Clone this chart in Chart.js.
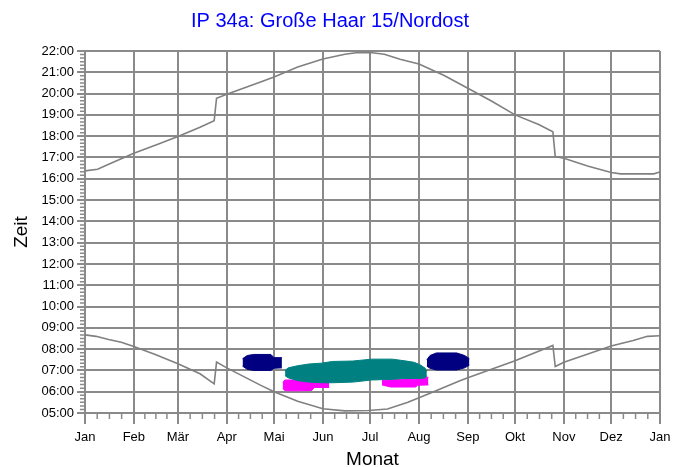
<!DOCTYPE html>
<html>
<head>
<meta charset="utf-8">
<script src="https://cdn.jsdelivr.net/npm/chart.js@4.4.0/dist/chart.umd.min.js"></script>
<style>
  html, body { margin: 0; padding: 0; background: #fff; }
</style>
</head>
<body>
<canvas id="canvas" width="688" height="467"></canvas>
<script>
// Month axis: day of year where each month starts, and its label
let monthDays = [0, 31, 59, 90, 120, 151, 181, 212, 243, 273, 304, 334, 365];
let monthNames = ['Jan', 'Feb', 'Mär', 'Apr', 'Mai', 'Jun', 'Jul', 'Aug', 'Sep', 'Okt', 'Nov', 'Dez', 'Jan'];

// Sunset (upper grey line), hours local time
let sunsetDays  = [0, 8, 15, 31, 45, 59, 73, 82, 83.5, 90, 111, 120, 135, 151, 165, 172, 181, 190, 200, 212, 228, 243, 258, 273, 288, 297, 298.5, 304, 319, 334, 340, 361, 365];
let sunsetTimes = [16.37, 16.45, 16.68, 17.2, 17.58, 17.98, 18.42, 18.73, 19.78, 19.97, 20.53, 20.78, 21.25, 21.62, 21.85, 21.92, 21.93, 21.85, 21.61, 21.39, 20.85, 20.25, 19.65, 19.0, 18.55, 18.21, 17.04, 16.96, 16.6, 16.29, 16.23, 16.23, 16.32];

// Sunrise (lower grey line)
let sunriseDays  = [0, 7, 15, 23, 31, 45, 59, 73, 82, 83.5, 90, 111, 120, 135, 151, 165, 180, 192, 205, 219, 238, 243, 258, 273, 297, 298.5, 304, 334, 348, 357, 365];
let sunriseTimes = [8.67, 8.6, 8.45, 8.32, 8.12, 7.73, 7.31, 6.84, 6.37, 7.39, 7.12, 6.32, 6.0, 5.55, 5.2, 5.1, 5.12, 5.19, 5.5, 5.93, 6.51, 6.66, 7.05, 7.45, 8.17, 7.18, 7.38, 8.15, 8.4, 8.6, 8.63];

// Shadow periods: day, start and end of shading (hours)
let navySpringDays = [100, 103, 107, 118, 120, 125];
let navySpringFrom = [7.2, 7.05, 7.0, 7.0, 7.1, 7.12];
let navySpringTo   = [7.55, 7.7, 7.75, 7.75, 7.6, 7.6];

let navySummerDays = [217, 219, 223, 236, 241, 244];
let navySummerFrom = [7.2, 7.1, 7.02, 7.02, 7.12, 7.25];
let navySummerTo   = [7.5, 7.7, 7.82, 7.82, 7.7, 7.55];

let tealDays = [127, 129, 135, 142, 150, 157, 170, 182, 195, 203, 209, 213, 216, 217];
let tealFrom = [6.75, 6.65, 6.52, 6.45, 6.42, 6.42, 6.45, 6.55, 6.58, 6.62, 6.62, 6.62, 6.65, 6.75];
let tealTo   = [7.0, 7.12, 7.22, 7.3, 7.34, 7.42, 7.44, 7.53, 7.53, 7.45, 7.38, 7.25, 7.1, 6.95];

let pinkSpringDays = [125.5, 127, 135, 144, 145.5, 155];
let pinkSpringFrom = [6.15, 6.05, 6.04, 6.06, 6.2, 6.2];
let pinkSpringTo   = [6.45, 6.55, 6.55, 6.5, 6.42, 6.42];

let pinkSummerDays = [188.5, 194, 210, 211, 218];
let pinkSummerFrom = [6.32, 6.22, 6.22, 6.3, 6.32];
let pinkSummerTo   = [6.52, 6.56, 6.58, 6.68, 6.68];

const gridColor = '#8a8a8a';

function points(days, times) {
    return days.map((d, i) => ({x: d, y: times[i]}));
}

// two boundary lines, the upper one filled down to the lower one
function blob(days, from, to, color) {
    return [
        {data: points(days, from), borderColor: color, borderWidth: 1, pointRadius: 0, fill: false},
        {data: points(days, to), borderColor: color, borderWidth: 1, pointRadius: 0, fill: '-1', backgroundColor: color}
    ];
}

function sunLine(days, times) {
    return {data: points(days, times), borderColor: '#808080', borderWidth: 1.6, pointRadius: 0, fill: false};
}

// small ticks: every 10 minutes on the time axis, quarter months on the month axis
const minorTicks = {
    id: 'minorTicks',
    afterDraw(chart) {
        const ctx = chart.ctx;
        const xs = chart.scales.x, ys = chart.scales.y;
        ctx.save();
        ctx.strokeStyle = gridColor;
        ctx.lineWidth = 1.5;
        ctx.beginPath();
        for (let m = 5 * 6; m <= 22 * 6; m++) {
            if (m % 6 === 0) continue;
            const y = ys.getPixelForValue(m / 6);
            ctx.moveTo(xs.left - 5, y);
            ctx.lineTo(xs.left - 1, y);
        }
        for (let i = 0; i < 12; i++) {
            const len = monthDays[i + 1] - monthDays[i];
            for (let q = 1; q < 4; q++) {
                const x = xs.getPixelForValue(monthDays[i] + len * q / 4);
                ctx.moveTo(x, ys.bottom);
                ctx.lineTo(x, ys.bottom + 6);
            }
        }
        ctx.stroke();
        ctx.restore();
    }
};

Chart.defaults.font.family = '"Liberation Sans", Arial, sans-serif';
Chart.defaults.color = '#000';

let canvas = document.getElementById('canvas');

new Chart(canvas, {
    type: 'line',
    data: {
        datasets: [
            sunLine(sunsetDays, sunsetTimes),
            sunLine(sunriseDays, sunriseTimes),
            ...blob(tealDays, tealFrom, tealTo, '#008080'),
            ...blob(pinkSpringDays, pinkSpringFrom, pinkSpringTo, '#ff00ff'),
            ...blob(pinkSummerDays, pinkSummerFrom, pinkSummerTo, '#ff00ff'),
            ...blob(navySpringDays, navySpringFrom, navySpringTo, '#000080'),
            ...blob(navySummerDays, navySummerFrom, navySummerTo, '#000080')
        ]
    },
    options: {
        responsive: false,
        animation: false,
        devicePixelRatio: 1,
        layout: {padding: {left: 0, right: 28, top: 0, bottom: 0}},
        plugins: {
            legend: {display: false},
            tooltip: {enabled: false},
            title: {
                display: true,
                text: 'IP 34a: Große Haar 15/Nordost',
                color: '#0000ff',
                font: {size: 20, weight: 'normal', lineHeight: 1.2},
                padding: {top: 9, bottom: 18}
            }
        },
        scales: {
            x: {
                type: 'linear',
                min: 0,
                max: 365,
                afterBuildTicks: (scale) => {
                    scale.ticks = monthDays.map(v => ({value: v}));
                },
                afterFit: (scale) => { scale.height = 54; },
                ticks: {
                    autoSkip: false,
                    maxRotation: 0,
                    font: {size: 13},
                    padding: 6,
                    callback: (value, index) => monthNames[index]
                },
                grid: {color: gridColor, lineWidth: 2, tickLength: 11},
                border: {color: gridColor, width: 2},
                title: {display: true, text: 'Monat', font: {size: 19, lineHeight: 0.8}, padding: 0}
            },
            y: {
                type: 'linear',
                min: 5,
                max: 22,
                afterFit: (scale) => { scale.width = 85; },
                ticks: {
                    stepSize: 1,
                    font: {size: 13},
                    padding: 3,
                    callback: (value) => String(value).padStart(2, '0') + ':00'
                },
                grid: {color: gridColor, lineWidth: 2, tickLength: 8},
                border: {color: gridColor, width: 2},
                title: {display: true, text: 'Zeit', font: {size: 19, lineHeight: 1}, padding: {top: 12, bottom: 0}}
            }
        }
    },
    plugins: [minorTicks]
});
</script>
</body>
</html>
